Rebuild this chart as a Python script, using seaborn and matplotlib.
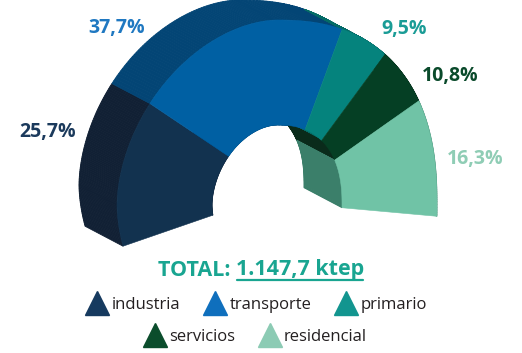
import numpy as np
import matplotlib
matplotlib.use('Agg')
import matplotlib.pyplot as plt
from matplotlib.patches import Polygon
from matplotlib.lines import Line2D
import seaborn as sns

### data
sectors = ['industria', 'transporte', 'primario', 'servicios', 'residencial']
shares = [25.7, 37.7, 9.5, 10.8, 16.3]
labels = ['25,7%', '37,7%', '9,5%', '10,8%', '16,3%']
total_label = '1.147,7 ktep'

front_colors = ['#12324f', '#0060a3', '#05837d', '#053f24', '#70c3a6']
side_colors = ['#112034', '#034575', '#046b66', '#0a2b1b', '#3b7f6a']
legend_colors = ['#163a5f', '#0f6fbd', '#12958f', '#0b4d2c', '#8ccbb4']
label_colors = ['#1b3a5c', '#1f78c1', '#1a9c96', '#0a4a2b', '#8fcdb5']

### layout (pixels)
W, H = 522, 353
cx, cy = 277, 205
rx_out, ry_out = 160, 185
rx_in, ry_in = 65, 80
n_left, n_right = 1.8, 2.4          # superellipse exponents (fake perspective)
start_out, span_out = 195, 197
start_in, span_in = 189, 190
depth = np.array([-38, -20])
label_pos = [(48, 132), (117, 28), (404, 29), (450, 76), (475, 159)]

sns.set_theme(style='white')
plt.rcParams['font.family'] = ['Open Sans', 'DejaVu Sans']

fig = plt.figure(figsize=(W / 100, H / 100), dpi=100)
ax = fig.add_axes([0, 0, 1, 1])
ax.set_xlim(0, W)
ax.set_ylim(H, 0)
ax.axis('off')


def ring(f, start, span, rx, ry):
    t = np.radians(start - f * span)
    c, s = np.cos(t), np.sin(t)
    n = np.where(c < 0, n_left, n_right)
    x = np.sign(c) * np.abs(c) ** (2 / n)
    y = np.sign(s) * np.abs(s) ** (2 / n)
    return np.column_stack([cx + rx * x, cy - ry * y])


fracs = np.cumsum([0] + shares) / sum(shares)
for i, s in enumerate(sectors):
    f = np.linspace(fracs[i], fracs[i + 1], 80)
    outer = ring(f, start_out, span_out, rx_out, ry_out)
    inner = ring(f, start_in, span_in, rx_in, ry_in)
    # side walls (extrusion)
    for arc in (outer, inner):
        for k in range(len(arc) - 1):
            quad = [arc[k], arc[k + 1], arc[k + 1] + depth, arc[k] + depth]
            ax.add_patch(Polygon(quad, closed=True, fc=side_colors[i],
                                 ec=side_colors[i], lw=0.6, zorder=1))
    # front face
    face = np.vstack([outer, inner[::-1]])
    ax.add_patch(Polygon(face, closed=True, fc=front_colors[i],
                         ec=front_colors[i], lw=0.4, zorder=3))

for lab, pos, c in zip(labels, label_pos, label_colors):
    ax.text(pos[0], pos[1], lab, color=c, fontsize=14, fontweight='bold',
            ha='center', va='center', zorder=5)

# total
teal = '#19a591'
t1 = ax.text(236, 270, 'TOTAL: ', color=teal, fontsize=15.5, fontweight='bold',
             ha='right', va='center')
t2 = ax.text(236, 270, total_label, color=teal, fontsize=15.5, fontweight='bold',
             ha='left', va='center')
fig.canvas.draw()
bb = t2.get_window_extent()
fig.add_artist(Line2D([bb.x0 + 1, bb.x1 - 1], [bb.y0 + 1, bb.y0 + 1], color=teal,
                      lw=1.6, transform=None))

# legend in two centred rows
handles = [Line2D([], [], marker='^', ls='', ms=17, mfc=c, mec=c) for c in legend_colors]
leg_kw = dict(loc='center', frameon=False, fontsize=12, handlelength=1.2,
              handletextpad=0.25, columnspacing=1.5)
leg1 = fig.legend(handles[:3], sectors[:3], ncol=3,
                  bbox_to_anchor=(257 / W, 1 - 305 / H), **leg_kw)
leg2 = fig.legend(handles[3:], sectors[3:], ncol=2,
                  bbox_to_anchor=(256 / W, 1 - 337 / H), **leg_kw)
for leg in (leg1, leg2):
    for t in leg.get_texts():
        t.set_color('#231f20')

fig.savefig('out.png', dpi=100)
